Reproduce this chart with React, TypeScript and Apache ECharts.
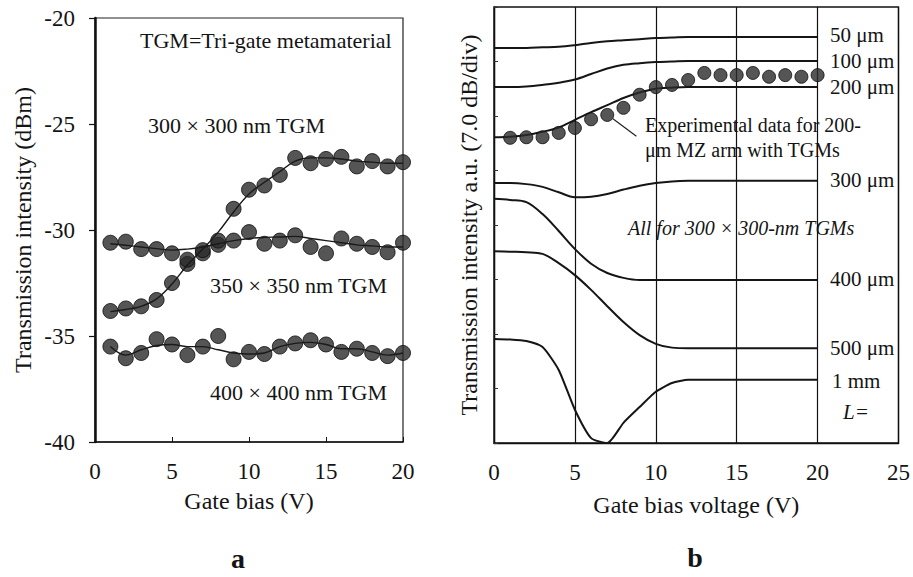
import React, { useEffect, useRef } from "react";
import * as echarts from "echarts";

const FONT = "'Liberation Serif', 'Times New Roman', serif";

// ---- Panel a ----
const biasA = [1, 2, 3, 4, 5, 6, 7, 8, 9, 10, 11, 12, 13, 14, 15, 16, 17, 18, 19, 20];
const tgm300 = [-33.82, -33.7, -33.6, -33.3, -32.5, -31.6, -31.1, -30.7, -29.0, -28.1, -27.9, -27.4, -26.6, -26.85, -26.65, -26.55, -27.0, -26.75, -27.0, -26.8];
const tgm350 = [-30.6, -30.55, -30.9, -30.9, -31.1, -31.4, -30.95, -30.5, -30.5, -30.1, -30.65, -30.5, -30.25, -30.8, -31.1, -30.4, -30.65, -30.8, -31.05, -30.6];
const tgm400 = [-35.5, -36.05, -35.8, -35.15, -35.4, -35.9, -35.5, -35.0, -36.1, -35.75, -35.85, -35.5, -35.35, -35.2, -35.4, -35.75, -35.6, -35.8, -35.95, -35.8];
const fit300 = [-33.85, -33.75, -33.6, -33.25, -32.55, -31.65, -30.9, -30.1, -29.15, -28.3, -27.75, -27.25, -26.75, -26.6, -26.6, -26.65, -26.75, -26.8, -26.85, -26.85];
const fit350 = [-30.65, -30.72, -30.8, -30.88, -30.95, -30.9, -30.8, -30.65, -30.5, -30.4, -30.35, -30.33, -30.3, -30.4, -30.5, -30.6, -30.7, -30.75, -30.8, -30.8];
const fit400 = [-35.5, -35.9, -35.65, -35.45, -35.4, -35.5, -35.5, -35.65, -35.8, -35.85, -35.8, -35.5, -35.35, -35.3, -35.4, -35.6, -35.6, -35.75, -35.9, -35.8];
const yTicksA = [-40, -35, -30, -25, -20];

// ---- Panel b ----
const curveBias = [0, 1, 2, 3, 4, 5, 6, 7, 8, 9, 10, 11, 12, 20];
const len50 = [7.25, 7.25, 7.25, 7.26, 7.27, 7.3, 7.34, 7.37, 7.39, 7.41, 7.43, 7.44, 7.45, 7.45];
const len100 = [6.53, 6.53, 6.54, 6.57, 6.61, 6.67, 6.77, 6.87, 6.94, 6.97, 6.99, 7.0, 7.01, 7.01];
const len200 = [5.61, 5.62, 5.65, 5.71, 5.79, 5.93, 6.07, 6.2, 6.33, 6.43, 6.5, 6.52, 6.53, 6.53];
const len300 = [4.77, 4.77, 4.75, 4.7, 4.6, 4.51, 4.52, 4.57, 4.65, 4.72, 4.77, 4.8, 4.81, 4.81];
const len400 = [4.48, 4.46, 4.42, 4.2, 3.89, 3.56, 3.29, 3.12, 3.03, 2.99, 2.99, 2.99, 2.99, 2.99];
const len500 = [3.52, 3.51, 3.5, 3.47, 3.3, 3.08, 2.81, 2.51, 2.22, 1.98, 1.82, 1.75, 1.74, 1.74];
const len1mm = [1.91, 1.9, 1.87, 1.76, 1.34, 0.61, 0.09, 0.0, 0.37, 0.66, 0.94, 1.1, 1.16, 1.16];
const biasExp = [1, 2, 3, 4, 5, 6, 7, 8, 9, 10, 11, 12, 13, 14, 15, 16, 17, 18, 19, 20];
const exp200 = [5.6, 5.61, 5.61, 5.69, 5.78, 5.94, 6.02, 6.15, 6.39, 6.53, 6.57, 6.66, 6.79, 6.75, 6.75, 6.79, 6.72, 6.75, 6.72, 6.75];
const pointerFrom = [7.35, 5.95];
const pointerTo = [8.8, 5.63];

const zip = (xs: number[], ys: number[]) => xs.map((x, i) => [x, ys[i]]);

export default function App() {
  const ref = useRef<HTMLDivElement>(null);
  useEffect(() => {
    if (!ref.current) return;
    const chart = echarts.init(ref.current, undefined, { renderer: "svg" });
    const dot = { color: "#2b2b2b", borderColor: "#0d0d0d", borderWidth: 1 };
    const fitLine = { color: "#1a1a1a", width: 1.4 };
    const curve = { color: "#151515", width: 2 };
    const txt = (text: string, x: number, y: number, extra: any = {}) => ({
      type: "text",
      x,
      y,
      style: { text, font: `21px ${FONT}`, fill: "#141414", align: "left", verticalAlign: "middle", ...extra },
      z: 100,
    });
    const curveSeries = (data: number[]) => ({
      type: "line",
      xAxisIndex: 1,
      yAxisIndex: 1,
      data: zip(curveBias, data),
      smooth: 0.35,
      symbol: "none",
      lineStyle: curve,
    });
    const axisText = { fontFamily: FONT, fontSize: 23, color: "#141414" };
    chart.setOption({
      animation: false,
      backgroundColor: "#fff",
      textStyle: { fontFamily: FONT },
      grid: [
        { left: 95, top: 18, width: 308, height: 424, show: true, borderColor: "#222", borderWidth: 1.2, backgroundColor: "transparent" },
        { left: 494, top: 7, width: 406, height: 436, show: true, borderColor: "#111", borderWidth: 1.4, backgroundColor: "transparent" },
      ],
      xAxis: [
        {
          gridIndex: 0,
          type: "value",
          min: 0,
          max: 20,
          interval: 5,
          name: "Gate bias (V)",
          nameLocation: "middle",
          nameGap: 47,
          nameTextStyle: { ...axisText, fontSize: 24 },
          axisLine: { show: true, onZero: false, lineStyle: { color: "#111", width: 1.5 } },
          axisTick: { show: true, inside: true, length: 5, lineStyle: { color: "#111" } },
          axisLabel: { ...axisText, margin: 18 },
          splitLine: { show: false },
        },
        {
          gridIndex: 1,
          type: "value",
          min: 0,
          max: 25,
          interval: 5,
          name: "Gate bias voltage (V)",
          nameLocation: "middle",
          nameGap: 50,
          nameTextStyle: { ...axisText, fontSize: 24 },
          axisLine: { show: true, onZero: false, lineStyle: { color: "#111", width: 1.4 } },
          axisTick: { show: false },
          axisLabel: { ...axisText, margin: 18 },
          splitLine: { show: true, lineStyle: { color: "#111", width: 1.2 } },
        },
      ],
      yAxis: [
        {
          gridIndex: 0,
          type: "value",
          min: yTicksA[0],
          max: yTicksA[yTicksA.length - 1],
          interval: 5,
          name: "Transmission intensity (dBm)",
          nameLocation: "middle",
          nameGap: 60,
          nameRotate: 90,
          nameTextStyle: { ...axisText, fontSize: 24 },
          axisLine: { show: true, onZero: false, lineStyle: { color: "#111", width: 2.5 } },
          axisTick: { show: true, inside: false, length: 6, lineStyle: { color: "#111", width: 1.2 } },
          axisLabel: { ...axisText, margin: 20 },
          splitLine: { show: false },
        },
        {
          gridIndex: 1,
          type: "value",
          min: 0,
          max: 8,
          interval: 1,
          name: "Transmission intensity a.u. (7.0 dB/div)",
          nameLocation: "middle",
          nameGap: 13,
          nameRotate: 90,
          nameTextStyle: { ...axisText, fontSize: 24 },
          axisLine: { show: true, onZero: false, lineStyle: { color: "#111", width: 1.4 } },
          axisTick: { show: true, inside: true, length: 4, lineStyle: { color: "#333" } },
          axisLabel: { show: false },
          splitLine: { show: false },
        },
      ],
      series: [
        { type: "line", xAxisIndex: 0, yAxisIndex: 0, data: zip(biasA, fit300), smooth: 0.4, symbol: "none", lineStyle: fitLine },
        { type: "line", xAxisIndex: 0, yAxisIndex: 0, data: zip(biasA, fit350), smooth: 0.4, symbol: "none", lineStyle: fitLine },
        { type: "line", xAxisIndex: 0, yAxisIndex: 0, data: zip(biasA, fit400), smooth: 0.4, symbol: "none", lineStyle: fitLine },
        { type: "scatter", xAxisIndex: 0, yAxisIndex: 0, data: zip(biasA, tgm300), symbolSize: 15, itemStyle: dot, clip: false },
        { type: "scatter", xAxisIndex: 0, yAxisIndex: 0, data: zip(biasA, tgm350), symbolSize: 15, itemStyle: dot, clip: false },
        { type: "scatter", xAxisIndex: 0, yAxisIndex: 0, data: zip(biasA, tgm400), symbolSize: 15, itemStyle: dot, clip: false },
        curveSeries(len50),
        curveSeries(len100),
        curveSeries(len200),
        curveSeries(len300),
        curveSeries(len400),
        curveSeries(len500),
        { ...curveSeries(len1mm), smooth: 0.2 },
        {
          type: "scatter",
          xAxisIndex: 1,
          yAxisIndex: 1,
          data: zip(biasExp, exp200),
          symbolSize: 13,
          itemStyle: dot,
          clip: false,
          z: 5,
          markLine: {
            silent: true,
            symbol: "none",
            label: { show: false },
            lineStyle: { color: "#222", width: 1.2, type: "solid" },
            data: [[{ coord: pointerFrom }, { coord: pointerTo }]],
          },
        },
      ],
      graphic: [
        txt("TGM=Tri-gate metamaterial", 140, 40, { font: `22px ${FONT}` }),
        txt("300 × 300 nm TGM", 148, 125, { font: `22px ${FONT}` }),
        txt("350 × 350 nm TGM", 210, 285, { font: `22px ${FONT}` }),
        txt("400 × 400 nm TGM", 210, 392, { font: `22px ${FONT}` }),
        txt("50 μm", 830, 35),
        txt("100 μm", 830, 61),
        txt("200 μm", 830, 87),
        txt("300 μm", 830, 180),
        txt("400 μm", 830, 279),
        txt("500 μm", 830, 348),
        txt("1 mm", 832, 381),
        txt("L=", 843, 412, { font: `italic 21px ${FONT}` }),
        txt("All for 300 × 300-nm TGMs", 628, 228, { font: `italic 20px ${FONT}` }),
        txt("Experimental data for 200-", 645, 125, { font: `20px ${FONT}` }),
        txt("μm MZ arm with TGMs", 645, 150, { font: `20px ${FONT}` }),
        txt("a", 238, 558, { font: `bold 28px ${FONT}`, align: "center" }),
        txt("b", 695, 557, { font: `bold 28px ${FONT}`, align: "center" }),
      ],
    });
    return () => chart.dispose();
  }, []);
  return <div ref={ref} style={{ position: "fixed", left: 0, top: 0, width: 913, height: 577 }} />;
}
